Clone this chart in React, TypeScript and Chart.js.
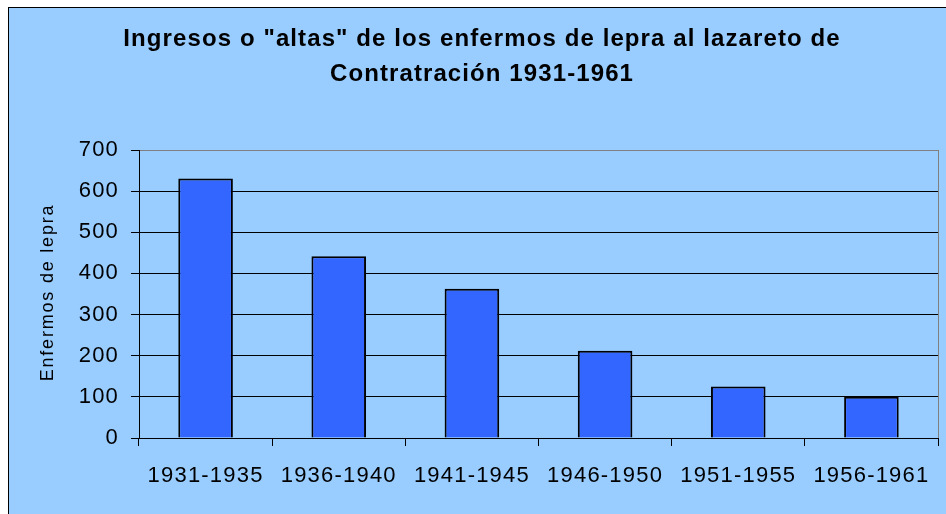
import React, { useEffect, useRef } from "react";
import { Chart, registerables } from "chart.js";

Chart.register(...registerables);

const TITLE_LINES = ['Ingresos o "altas" de los enfermos de lepra al lazareto de', "Contratración 1931-1961"];
const Y_TITLE = "Enfermos de lepra";
const CATEGORIES = ["1931-1935", "1936-1940", "1941-1945", "1946-1950", "1951-1955", "1956-1961"];
const VALUES = [631, 442, 363, 212, 125, 100];
const Y_MIN = 0;
const Y_MAX = 700;
const Y_STEP = 100;

const FONT = '"Liberation Sans", Arial, sans-serif';

const decor = {
  id: "decor",
  beforeDraw(chart: any) {
    chart.ctx.letterSpacing = "1.2px";
  },
  afterDraw(chart: any) {
    const { ctx, chartArea } = chart;
    ctx.save();
    ctx.strokeStyle = "#808080";
    ctx.lineWidth = 1;
    ctx.beginPath();
    ctx.moveTo(Math.round(chartArea.right) + 0.5, chartArea.top);
    ctx.lineTo(Math.round(chartArea.right) + 0.5, chartArea.bottom);
    ctx.stroke();

    ctx.fillStyle = "#000";
    ctx.textAlign = "center";
    ctx.textBaseline = "middle";
    ctx.font = `bold 24px ${FONT}`;
    ctx.letterSpacing = "1.1px";
    TITLE_LINES.forEach((line, i) => ctx.fillText(line, 473, 31 + i * 35));

    ctx.translate(39.5, 284.5);
    ctx.rotate(-Math.PI / 2);
    ctx.font = `18px ${FONT}`;
    ctx.letterSpacing = "1.8px";
    ctx.fillText(Y_TITLE, 0, 0);
    ctx.restore();
  },
};

export default function App() {
  const ref = useRef<HTMLCanvasElement>(null);
  useEffect(() => {
    if (!ref.current) return;
    const chart = new Chart(ref.current, {
      type: "bar",
      data: {
        labels: CATEGORIES,
        datasets: [
          {
            data: VALUES,
            backgroundColor: "#3366FF",
            borderColor: "#000000",
            borderWidth: 2,
            barPercentage: 1,
            categoryPercentage: 0.41,
          },
        ],
      },
      options: {
        animation: false,
        responsive: false,
        devicePixelRatio: 1,
        layout: { padding: { left: 0, right: 8, top: 142, bottom: 0 } },
        plugins: { legend: { display: false }, title: { display: false }, tooltip: { enabled: false } },
        scales: {
          x: {
            afterFit: (s: any) => {
              s.height = 76;
            },
            grid: {
              display: true,
              drawOnChartArea: false,
              drawTicks: true,
              tickLength: 8,
              offset: true,
              color: "#000",
              tickColor: "#000",
            },
            border: { color: "#000", width: 1 },
            ticks: { color: "#000", font: { family: FONT, size: 22 }, padding: 17, maxRotation: 0 },
          },
          y: {
            min: Y_MIN,
            max: Y_MAX,
            afterFit: (s: any) => {
              s.width = 130;
            },
            grid: {
              color: (c: any) => (c.tick && c.tick.value === Y_MAX ? "#808080" : "#000"),
              tickColor: "#000",
              tickLength: 8,
              lineWidth: 1,
            },
            border: { color: "#000", width: 1 },
            ticks: { stepSize: Y_STEP, color: "#000", font: { family: FONT, size: 22 }, padding: 12 },
          },
        },
      },
      plugins: [decor],
    });
    return () => chart.destroy();
  }, []);

  return (
    <div
      style={{
        position: "absolute",
        left: 8,
        top: 7,
        width: 938,
        height: 507,
        boxSizing: "border-box",
        borderLeft: "1px solid #000",
        borderTop: "1px solid #000",
        background: "#99CCFF",
        overflow: "hidden",
      }}
    >
      <canvas ref={ref} width={937} height={506} style={{ display: "block" }} />
    </div>
  );
}
